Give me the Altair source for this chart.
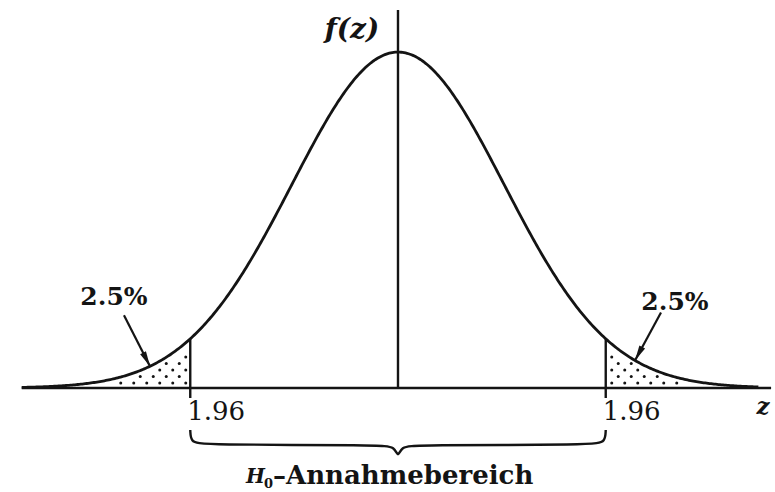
import math
import numpy as np
import pandas as pd
import altair as alt

# Standard normal density with two-sided 5 % rejection region
MU, SIGMA = 0.0, 1.0
CRIT = 1.96
TAIL_LABEL = "2.5%"
CRIT_LABEL = "1.96"
Y_LABEL = "f(z)"
X_LABEL = "z"
REGION_SYMBOL = "H"
REGION_SUB = "0"
REGION_TEXT = "–Annahmebereich"

Z_MIN, Z_MAX = -3.755, 3.557          # x scale domain
F_MIN, F_MAX = -0.1235, 0.4608        # y scale domain
CURVE_FROM, CURVE_TO = -3.55, 3.40
AXIS_FROM, AXIS_TO = -3.55, 3.52
YAXIS_TOP = 0.449

W, H = 775, 492
PX_Z = W / (Z_MAX - Z_MIN)
PX_F = H / (F_MAX - F_MIN)
INK = "#141414"
SERIF = "DejaVu Serif"


def pdf(z):
    return np.exp(-0.5 * ((z - MU) / SIGMA) ** 2) / (SIGMA * math.sqrt(2 * math.pi))


xs = alt.Scale(domain=[Z_MIN, Z_MAX], nice=False, zero=False)
ys = alt.Scale(domain=[F_MIN, F_MAX], nice=False, zero=False)
X = lambda f="z": alt.X(f"{f}:Q", scale=xs, axis=None)
Y = lambda f="f": alt.Y(f"{f}:Q", scale=ys, axis=None)

z = np.linspace(CURVE_FROM, CURVE_TO, 500)
curve = pd.DataFrame({"z": z, "f": pdf(z)})

# stippling of the two tails: staggered dot grid below the curve
dz, df_ = 13 / PX_Z, 6.5 / PX_F
dots = []
for i, fy in enumerate(np.arange(5 / PX_F, pdf(CRIT), df_)):
    start = CRIT + 6 / PX_Z + (dz / 2 if i % 2 else 0)
    for zz in np.arange(start, CURVE_TO, dz):
        if pdf(zz) - fy > 3.5 / PX_F:
            dots.append({"z": zz, "f": fy})
            dots.append({"z": -zz + 1.5 / PX_Z, "f": fy})
dots = pd.DataFrame(dots)

line = alt.Chart(curve).mark_line(color=INK, strokeWidth=2.8).encode(x=X(), y=Y())

stipple = alt.Chart(dots).mark_circle(color=INK, size=9, opacity=1).encode(x=X(), y=Y())

# axes
axes = pd.DataFrame({
    "z": [AXIS_FROM, 0.0],
    "z2": [AXIS_TO, 0.0],
    "f": [0.0, 0.0],
    "f2": [0.0, YAXIS_TOP],
})
axis_rules = alt.Chart(axes).mark_rule(color=INK, strokeWidth=2.4).encode(
    x=X(), x2="z2:Q", y=Y(), y2="f2:Q"
)

# critical value lines, reaching a little below the axis
crit = pd.DataFrame({"z": [-CRIT, CRIT], "f": [pdf(CRIT)] * 2, "f2": [-10 / PX_F] * 2})
crit_rules = alt.Chart(crit).mark_rule(color=INK, strokeWidth=2.4).encode(
    x=X(), y=Y(), y2="f2:Q"
)

crit_text = alt.Chart(pd.DataFrame({"z": [-CRIT, CRIT], "t": [CRIT_LABEL] * 2})).mark_text(
    font=SERIF, fontSize=26, align="left", baseline="middle", dx=-3, color=INK
).encode(x=X(), y=alt.value(412), text="t:N")

# tail labels with arrows pointing at the curve
labels = pd.DataFrame({
    "z": [(114 - 398) / PX_Z, (675 - 398) / PX_Z],
    "f": [(388 - 297) / PX_F, (388 - 302) / PX_F],
    "t": [TAIL_LABEL] * 2,
})
tail_text = alt.Chart(labels).mark_text(
    font=SERIF, fontWeight="bold", fontSize=25, align="center", baseline="middle", color=INK
).encode(x=X(), y=Y(), text="t:N")

tips_z = [-2.34, 2.236]
tails_px = [(-26, -51), (26, -48)]  # arrow tail relative to tip, in px (dx right, dy down)
arrows, heads = [], []
for tz, (dxp, dyp) in zip(tips_z, tails_px):
    tf = float(pdf(tz))
    arrows.append({"z": tz + dxp / PX_Z, "f": tf - dyp / PX_F, "z2": tz, "f2": tf})
    length = math.hypot(dxp, dyp)
    ux, uy = -dxp / length, -dyp / length          # direction of travel (screen coords)
    back = 7.5
    heads.append({
        "z": tz - ux * back / PX_Z,
        "f": tf + uy * back / PX_F,
        "a": math.degrees(math.atan2(ux, -uy)) % 360,
    })
arrow_lines = alt.Chart(pd.DataFrame(arrows)).mark_rule(color=INK, strokeWidth=2.2).encode(
    x=X(), y=Y(), x2="z2:Q", y2="f2:Q"
)
arrow_heads = alt.Chart(pd.DataFrame(heads)).mark_point(
    shape="M0,-1L0.42,1L-0.42,1Z", size=240, filled=True, color=INK, opacity=1
).encode(x=X(), y=Y(), angle=alt.Angle("a:Q", scale=None))

# brace under the acceptance region
bf_end, bf_mid, bf_tip = -42 / PX_F, -57 / PX_F, -70 / PX_F
brace = pd.DataFrame({
    "z": [-CRIT, -CRIT + 0.005, -CRIT + 0.1, -0.16, -0.03, 0.0, 0.03, 0.16, CRIT - 0.1, CRIT - 0.005, CRIT],
    "f": [bf_end, bf_mid + 0.004, bf_mid, bf_mid, bf_mid - 0.002, bf_tip, bf_mid - 0.002, bf_mid, bf_mid, bf_mid + 0.004, bf_end],
})
brace_line = alt.Chart(brace).mark_line(color=INK, strokeWidth=2.4, interpolate="basis").encode(
    x=X(), y=Y(), order="z:Q"
)

# axis titles
fz = alt.Chart(pd.DataFrame({"t": [Y_LABEL]})).mark_text(
    font=SERIF, fontWeight="bold", fontStyle="italic", fontSize=28, align="center",
    baseline="middle", color=INK
).encode(x=alt.value(352), y=alt.value(30), text="t:N")
zt = alt.Chart(pd.DataFrame({"t": [X_LABEL]})).mark_text(
    font=SERIF, fontWeight="bold", fontStyle="italic", fontSize=23, align="center",
    baseline="middle", color=INK
).encode(x=alt.value(763), y=alt.value(407), text="t:N")

# region label: italic H with subscript 0, then the bold word
reg_h = alt.Chart(pd.DataFrame({"t": [REGION_SYMBOL]})).mark_text(
    font=SERIF, fontWeight="bold", fontStyle="italic", fontSize=20, align="right",
    baseline="alphabetic", color=INK
).encode(x=alt.value(265), y=alt.value(483), text="t:N")
reg_sub = alt.Chart(pd.DataFrame({"t": [REGION_SUB]})).mark_text(
    font=SERIF, fontWeight="bold", fontSize=13, align="left", baseline="alphabetic", color=INK
).encode(x=alt.value(264), y=alt.value(488), text="t:N")
reg_txt = alt.Chart(pd.DataFrame({"t": [REGION_TEXT]})).mark_text(
    font=SERIF, fontWeight="bold", fontSize=26, align="left", baseline="alphabetic", color=INK
).encode(x=alt.value(273), y=alt.value(484), text="t:N")

chart = alt.layer(
    stipple, axis_rules, crit_rules, line, arrow_lines, arrow_heads, brace_line,
    crit_text, tail_text, fz, zt, reg_h, reg_sub, reg_txt
).properties(
    width=W, height=H, background="white", padding=0,
    autosize=alt.AutoSizeParams(type="none"),
).configure_view(stroke=None)

chart.save("out.html", embed_options={"renderer": "svg", "actions": False})
